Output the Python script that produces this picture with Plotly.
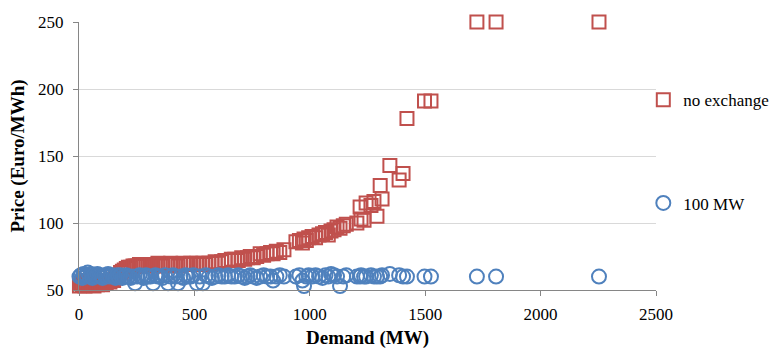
import plotly.graph_objects as go

# Hourly observations: demand (MW) and resulting market price (Euro/MWh)
demand = [
    2, 8, 14, 20, 26, 32, 38, 45, 52, 58, 65, 72, 80, 88, 95, 102, 110, 118,
    126, 134, 142, 150, 158, 165,
    172, 180, 188, 196, 205, 214, 224, 234,
    243, 252, 262, 271, 280, 290, 300, 310, 321, 331, 342, 352, 362, 373,
    386, 397, 408, 418, 429, 440, 451, 462, 473, 484, 496, 511, 523, 537,
    550, 563, 576, 590, 604, 618, 632, 646, 660,
    675, 690, 705, 718, 730, 742, 755, 770, 785, 800, 815, 830, 841, 855,
    870, 888,
    940, 955, 968, 975, 985, 995,
    1010, 1025, 1040, 1055, 1068, 1080, 1092, 1105, 1118, 1131, 1145, 1158,
    1204, 1218, 1222, 1235, 1244, 1265, 1278, 1291, 1305, 1313, 1347, 1387,
    1404, 1421, 1497, 1525, 1724, 1807, 2253,
]

price_no_exchange = [
    53, 55, 54, 56, 53, 55, 57, 54, 56, 55, 53, 56, 54, 57, 55, 54, 56, 55,
    57, 56, 58, 57, 59, 60,
    61, 63, 64, 65, 66, 67, 67, 68,
    68, 68, 69, 68, 69, 68, 69, 69, 68, 69, 70, 69, 68, 69,
    69, 70, 69, 69, 68, 69, 70, 69, 69, 70, 69, 70, 69, 70,
    69, 70, 70, 71, 70, 71, 72, 72, 73,
    73, 72, 74, 73, 74, 75, 74, 75, 77, 76, 77, 78, 77, 79,
    78, 80,
    86, 87, 85, 88, 87, 89,
    90, 89, 91, 92, 93, 91, 94, 95, 97, 96, 98, 99,
    100, 112, 103, 102, 115, 113, 116, 105, 128, 118, 143, 132,
    137, 178, 191, 191, 250, 250, 250,
]

price_100mw = [
    60, 61, 59, 62, 60, 61, 63, 60, 62, 59, 61, 60, 62, 61, 60, 59, 61, 60,
    62, 60, 61, 60, 59, 61,
    60, 61, 59, 60, 61, 60, 59, 60,
    55, 60, 61, 60, 59, 61, 60, 60, 55, 61, 60, 60, 59, 61,
    55, 60, 61, 60, 55, 60, 59, 61, 60, 60, 61, 55, 60, 55,
    61, 60, 59, 60, 61, 60, 60, 61, 60,
    60, 61, 60, 59, 60, 61, 60, 59, 60, 61, 60, 60, 57, 60,
    61, 60,
    60, 61, 57, 53, 60, 61,
    60, 61, 60, 59, 61, 60, 62, 61, 60, 53, 60, 61,
    60, 60, 61, 60, 60, 61, 60, 60, 60, 61, 62, 61,
    60, 60, 60, 60, 60, 60, 60,
]

x_ticks = [0, 500, 1000, 1500, 2000, 2500]
y_ticks = [50, 100, 150, 200, 250]

RED = "#C0504D"
BLUE = "#4F81BD"
FONT = "Liberation Serif, Times New Roman, serif"

fig = go.Figure()
fig.add_trace(go.Scatter(
    x=demand, y=price_no_exchange, mode="markers", name="no exchange",
    legendgroup="a", cliponaxis=False,
    marker=dict(symbol="square-open", size=13, color=RED, line=dict(width=2, color=RED)),
))
fig.add_trace(go.Scatter(
    x=demand, y=price_100mw, mode="markers", name="100 MW",
    legendgroup="b", cliponaxis=False,
    marker=dict(symbol="circle-open", size=14, color=BLUE, line=dict(width=2, color=BLUE)),
))

fig.update_layout(
    width=775, height=349,
    margin=dict(l=79, r=119, t=22, b=59, autoexpand=False),
    plot_bgcolor="white", paper_bgcolor="white",
    font=dict(family=FONT, size=17, color="#000000"),
    showlegend=True,
    legend=dict(
        x=0.978, xanchor="left", y=0.775, yanchor="top",
        traceorder="grouped", tracegroupgap=78,
        font=dict(family=FONT, size=17),
        bgcolor="rgba(0,0,0,0)", itemwidth=30,
    ),
    xaxis=dict(
        range=[0, 2500], tickvals=x_ticks, ticktext=[str(v) for v in x_ticks],
        showgrid=False, zeroline=False,
        showline=True, linecolor="#868686", linewidth=1,
        ticks="outside", ticklen=5, tickcolor="#868686", ticklabelstandoff=4,
        title=dict(text="<b>Demand (MW)</b>", font=dict(family=FONT, size=19), standoff=10),
    ),
    yaxis=dict(
        range=[50, 250], tickvals=y_ticks, ticktext=[str(v) for v in y_ticks],
        showgrid=True, gridcolor="#D9D9D9", gridwidth=1, zeroline=False,
        showline=True, linecolor="#868686", linewidth=1,
        ticks="outside", ticklen=5, tickcolor="#868686", ticklabelstandoff=6,
        title=dict(text="<b>Price (Euro/MWh)</b>", font=dict(family=FONT, size=19), standoff=8),
    ),
)

fig.write_html("out.html")
